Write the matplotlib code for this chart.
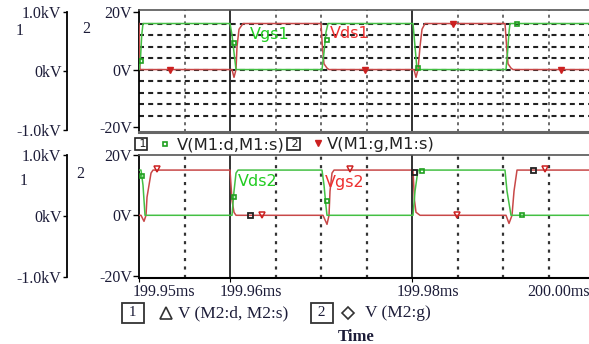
import numpy as np
import matplotlib
matplotlib.use("Agg")
import matplotlib.pyplot as plt

# ---- data (time in ms, voltage in V) ----
t_top_green = [199.95000, 199.95015, 199.95030, 199.95044, 199.96000, 199.96022, 199.96040, 199.96066,
               199.97011, 199.97033, 199.97055, 199.97077, 199.98011, 199.98033, 199.98055,
               199.99033, 199.99050, 199.99066, 199.99077, 199.99950]
v_top_green = [0, 3, 12, 16, 16, 12, 7, 0,
               0, 6, 13, 16, 16, 8, 0,
               0, 6, 13, 16, 16]

t_top_red = [199.95000, 199.95011, 199.96022, 199.96044, 199.96066, 199.96077, 199.96099, 199.96143,
             199.97000, 199.97015, 199.97033, 199.97066, 199.97088,
             199.98022, 199.98044, 199.98066, 199.98088, 199.98110, 199.98143,
             199.99022, 199.99040, 199.99055, 199.99088, 199.99110, 199.99950]
v_top_red = [16, 0, 0, -2.7, 0, 8, 14, 16,
             16, 8, 2, 0.5, 0,
             0, -2.7, 0, 8, 14, 16,
             16, 8, 2, 0.5, 0, 0]

t_bot_green = [199.95000, 199.95022, 199.95044, 199.95066, 199.96022, 199.96044, 199.96066, 199.96088,
               199.97011, 199.97033, 199.97055, 199.97066, 199.98011, 199.98033, 199.98066,
               199.99022, 199.99044, 199.99066, 199.99088, 199.99950]
v_bot_green = [15, 15, 10, 0, 0, 8, 14, 15,
               15, 10, 3, 0, 0, 8, 15,
               15, 8, 4, 0, 0]

t_bot_red = [199.95000, 199.95022, 199.95055, 199.95077, 199.95088, 199.95110, 199.95132, 199.95154,
             199.96000, 199.96022, 199.96044, 199.96066,
             199.97022, 199.97066, 199.97088, 199.97099, 199.97121, 199.97143,
             199.98011, 199.98027, 199.98044, 199.98088,
             199.99033, 199.99066, 199.99099, 199.99121, 199.99154, 199.99950]
v_bot_red = [0, 0, -2, 0, 6, 10, 14, 15,
             15, 5, 1, 0,
             0, -3, 0, 8, 14, 15,
             15, 5, 1, 0,
             0, -2.7, 0, 8, 15, 15]

# trace markers
mk_top_green_t = [199.95022, 199.96044, 199.97066, 199.98066, 199.99154]
mk_top_green_v = [3.0, 9.4, 10.4, 0.7, 16]
mk_top_red_t = [199.95341, 199.97484, 199.98451, 199.99637]
mk_top_red_v = [0, 0, 16, 0]
mk_bot_green_t = [199.95033, 199.96044, 199.97066, 199.98110, 199.99209]
mk_bot_green_v = [12.9, 6.1, 4.7, 14.7, 0]
mk_bot_red_t = [199.95198, 199.96352, 199.97319, 199.98495, 199.99462]
mk_bot_red_v = [15.5, 0, 15.5, 0, 15.5]
mk_bot_black_t = [199.96220, 199.98022, 199.99330]
mk_bot_black_v = [0, 14.5, 15]

solid_t = [199.96, 199.98]
dashed_t = [199.955, 199.965, 199.97, 199.975, 199.985, 199.99, 199.995]
hgrid_v = [-16, -12, -8, -4, 0, 4, 8, 12, 16]
time_labels = ["199.95ms", "199.96ms", "199.98ms", "200.00ms"]

GREEN = "#44c044"
RED = "#c84848"
TXT = "#1c1c38"
SERIF = "Liberation Serif"
FS = 11.5

W, H = 589, 344
fig = plt.figure(figsize=(W / 100, H / 100), dpi=100)
t0, t1 = 199.95, 199.95 + 450 / 9100


def fa(x0, y0, x1, y1):
    return [x0 / W, 1 - y1 / H, (x1 - x0) / W, (y1 - y0) / H]


def style_axis(ax, ylim):
    ax.set_xlim(t0, t1)
    ax.set_ylim(*ylim)
    ax.patch.set_alpha(0)
    ax.spines["right"].set_visible(False)
    ax.spines["left"].set_color("black")
    ax.spines["left"].set_linewidth(1.3)
    ax.spines["top"].set_color("#555555")
    ax.spines["top"].set_linewidth(1.2)
    ax.set_yticks([-20, 0, 20])
    ax.set_yticklabels(["-20V", "0V", "20V"], family=SERIF, fontsize=FS, color=TXT)
    ax.tick_params(axis="y", direction="out", length=4, width=1, pad=1)
    for t in solid_t:
        ax.axvline(t, color="#222222", lw=1.3, zorder=1)


ax1 = fig.add_axes(fa(139, 10, 589, 132))
style_axis(ax1, (-21.7, 20.7))
ax1.spines["bottom"].set_color("#666666")
ax1.spines["bottom"].set_linewidth(2.2)
ax1.set_xticks([])
for t in dashed_t:
    ax1.axvline(t, color="#444444", lw=1.1, dashes=(2.0, 2.4), zorder=1)
for v in hgrid_v:
    ax1.axhline(v, color="#222222", lw=1.5, dashes=(2.4, 2.0), zorder=1)
ax1.plot(t_top_red, v_top_red, color=RED, lw=1.1, zorder=3)
ax1.plot(t_top_green, v_top_green, color=GREEN, lw=1.1, zorder=3)
ax1.plot(mk_top_green_t, mk_top_green_v, ls="none", marker="s", ms=3.2, mfc="none",
         mec="#20a020", mew=1.2, zorder=4)
ax1.plot(mk_top_red_t, mk_top_red_v, ls="none", marker="v", ms=4, color="#cc2020", zorder=4)

ax2 = fig.add_axes(fa(139, 155, 589, 278))
style_axis(ax2, (-20.8, 20))
ax2.spines["bottom"].set_color("black")
ax2.spines["bottom"].set_linewidth(1.5)
ax2.set_xticks([199.95, 199.96, 199.98])
ax2.set_xticklabels([])
ax2.tick_params(axis="x", direction="out", length=3)
for t in dashed_t:
    ax2.axvline(t, color="#333333", lw=1.6, dashes=(1.4, 2.4), zorder=1)
ax2.plot(t_bot_red, v_bot_red, color=RED, lw=1.1, zorder=3)
ax2.plot(t_bot_green, v_bot_green, color=GREEN, lw=1.1, zorder=3)
ax2.plot(mk_bot_green_t, mk_bot_green_v, ls="none", marker="s", ms=3.2, mfc="none",
         mec="#20a020", mew=1.2, zorder=4)
ax2.plot(mk_bot_red_t, mk_bot_red_v, ls="none", marker="v", ms=4.5, mfc="none",
         mec="#cc2020", mew=1.1, zorder=4)
ax2.plot(mk_bot_black_t, mk_bot_black_v, ls="none", marker="s", ms=3.6, mfc="none",
         mec="#222222", mew=1.3, zorder=4)

# kV axes on the far left
for (y0, y1) in [(12, 130), (155, 277)]:
    ak = fig.add_axes(fa(67, y0, 67.5, y1))
    ak.set_ylim(-1, 1)
    ak.patch.set_alpha(0)
    for s in ["top", "right", "bottom"]:
        ak.spines[s].set_visible(False)
    ak.spines["left"].set_linewidth(1.3)
    ak.set_xticks([])
    ak.set_yticks([-1, 0, 1])
    ak.set_yticklabels(["-1.0kV", "0kV", "1.0kV"], family=SERIF, fontsize=FS, color=TXT)
    ak.tick_params(axis="y", direction="out", length=3, width=1, pad=1)

# overlay for annotations in pixel space
ov = fig.add_axes([0, 0, 1, 1])
ov.set_xlim(0, W)
ov.set_ylim(H, 0)
ov.axis("off")

for x, y, s in [(20, 31, "1"), (86, 29, "2"), (24, 181, "1"), (80, 174, "2")]:
    ov.text(x, y, s, family=SERIF, fontsize=FS, color=TXT, ha="center", va="center")

# time labels
for x, s in zip([164, 251, 428, 559], time_labels):
    ov.text(x, 292, s, family=SERIF, fontsize=FS, color=TXT, ha="center", va="center")

# trace names
ov.text(250, 34, "Vgs1", color="#22cc22", fontsize=11.5, ha="left", va="center")
ov.text(330, 34, "Vds1", color="#ee3030", fontsize=11.5, ha="left", va="center")
ov.text(238, 181, "Vds2", color="#22cc22", fontsize=11.5, ha="left", va="center")
ov.text(325, 183, "Vgs2", color="#ee3030", fontsize=11.5, ha="left", va="center")

# top legend
box = dict(boxstyle="square,pad=0.08", fc="white", ec="#222222", lw=1.2)
ov.text(146, 144, " 1", fontsize=8, ha="right", va="center", color="#222222", bbox=box)
ov.plot([165], [144], marker="s", ms=3.2, mfc="none", mec="#20a020", mew=1.2)
ov.text(177, 145, "V(M1:d,M1:s)", fontsize=11.8, ha="left", va="center", color="#222222")
ov.text(299, 144, " 2", fontsize=8, ha="right", va="center", color="#222222", bbox=box)
ov.plot([318], [143], marker="v", ms=4, color="#cc2020")
ov.text(327, 145, "V(M1:g,M1:s)", fontsize=11.8, ha="left", va="center", color="#222222")

# bottom legend
box2 = dict(boxstyle="square,pad=0.2", fc="white", ec="#333333", lw=1.3)
ov.text(133, 313, " 1 ", family=SERIF, fontsize=11, ha="center", va="center", color=TXT, bbox=box2)
ov.plot([166], [313], marker="^", ms=8, mfc="none", mec="#333333", mew=1.2)
ov.text(178, 313, "V (M2:d, M2:s)", family=SERIF, fontsize=12.5, ha="left", va="center", color=TXT)
ov.text(322, 313, " 2 ", family=SERIF, fontsize=11, ha="center", va="center", color=TXT, bbox=box2)
ov.plot([348], [313], marker="D", ms=6, mfc="none", mec="#333333", mew=1.2)
ov.text(365, 313, "V (M2:g)", family=SERIF, fontsize=12.5, ha="left", va="center", color=TXT)
ov.text(356, 337, "Time", family=SERIF, fontsize=12, fontweight="bold", ha="center", va="center", color=TXT)

fig.savefig("out.png", dpi=100)
